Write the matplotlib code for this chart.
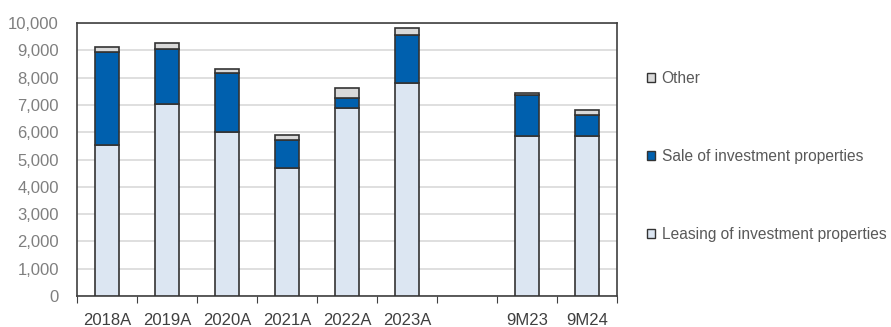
import numpy as np
import matplotlib.pyplot as plt
from matplotlib.patches import Patch

plt.rcParams['font.family'] = ['Liberation Sans', 'DejaVu Sans']

labels = ['2018A', '2019A', '2020A', '2021A', '2022A', '2023A', '', '9M23', '9M24']
leasing = [5520, 7020, 6000, 4690, 6875, 7815, 0, 5850, 5850]
sale = [3410, 2030, 2170, 1010, 365, 1745, 0, 1510, 780]
other = [200, 220, 160, 185, 390, 240, 0, 90, 195]

c_lease = '#dce6f2'
c_sale = '#0060ae'
c_other = '#d9d9d9'
edge = '#333333'

x = np.arange(len(labels))
leasing = np.array(leasing)
sale = np.array(sale)
other = np.array(other)
has = leasing + sale + other > 0

fig = plt.figure(figsize=(8.91, 3.27), dpi=100)
ax = fig.add_axes([77/891, 31/327, (617-77)/891, (296-23)/327])

kw = dict(width=0.4, edgecolor=edge, linewidth=1.2, zorder=3)
ax.bar(x[has], leasing[has], color=c_lease, **kw)
ax.bar(x[has], sale[has], bottom=leasing[has], color=c_sale, **kw)
ax.bar(x[has], other[has], bottom=(leasing + sale)[has], color=c_other, **kw)

ax.set_xlim(-0.5, len(labels) - 0.5)
ax.set_ylim(0, 10000)
ax.set_yticks(np.arange(0, 10001, 1000))
ax.set_yticklabels([f'{v:,}' for v in range(0, 10001, 1000)], color='#7f7f7f', fontsize=12)
ax.tick_params(axis='y', length=0, pad=13)
ax.yaxis.grid(True, color='#d9d9d9', linewidth=1.2, zorder=0)

ax.set_xticks(np.arange(-0.5, len(labels)), minor=False)
ax.set_xticklabels([])
ax.set_xticks(x, minor=True)
ax.set_xticklabels(labels, minor=True, color='#404040', fontsize=12)
ax.tick_params(axis='x', which='major', length=5, direction='out', color='#404040')
ax.tick_params(axis='x', which='minor', length=0, pad=12)

for s in ax.spines.values():
    s.set_color('#404040')
    s.set_linewidth(1.2)

handles = [Patch(facecolor=c_other, edgecolor=edge, label='Other'),
           Patch(facecolor=c_sale, edgecolor=edge, label='Sale of investment properties'),
           Patch(facecolor=c_lease, edgecolor=edge, label='Leasing of investment properties')]
leg = fig.legend(handles=handles, loc='upper left', bbox_to_anchor=(639/891, 1 - 63/327),
                 frameon=False, fontsize=11.2, labelspacing=4.05, handlelength=0.55,
                 handleheight=0.55, handletextpad=0.4, borderpad=0)
for t in leg.get_texts():
    t.set_color('#595959')

fig.savefig('out.png', dpi=100)
